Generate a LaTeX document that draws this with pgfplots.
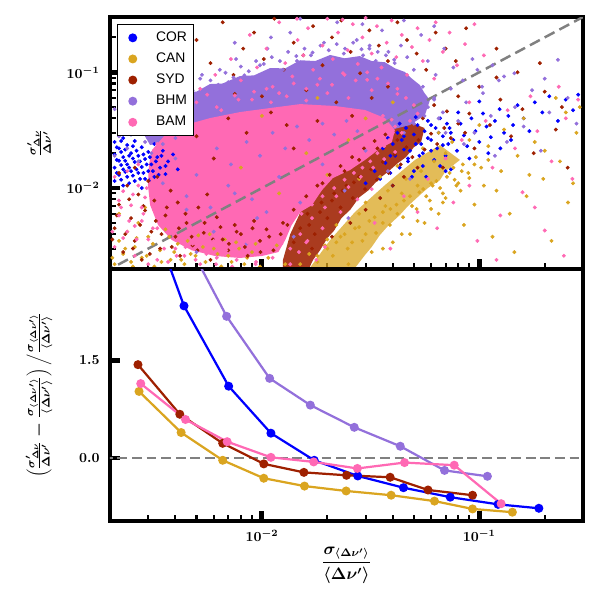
\documentclass[border=0pt]{standalone}
\usepackage{pgfplots}
\pgfplotsset{compat=1.18}
\usepackage{fontspec}
\newfontfamily\legfont{Liberation Sans}
\definecolor{corblue}{RGB}{0,0,255}
\definecolor{cangold}{RGB}{218,165,32}
\definecolor{sydred}{RGB}{158,32,0}
\definecolor{bhmpurple}{RGB}{147,112,219}
\definecolor{bampink}{RGB}{255,105,180}
\pgfplotsset{
  myscat/.style={only marks, mark=*, mark size=1.2pt, color=#1, mark options={draw=none, fill=#1}},
  mypoly/.style={fill=#1, draw=none, forget plot},
  myline/.style={color=#1, line width=1.6pt, mark=*, mark size=2.4pt, mark options={draw=none, fill=#1}},
}
\begin{document}
\begin{tikzpicture}
\useasboundingbox (-79.2pt,-56.88pt) rectangle (352.8pt,375.12pt);
% ---------------- top panel ----------------
\begin{axis}[name=top, at={(0,181.44pt)}, anchor=south west,
  scale only axis, width=340.56pt, height=181.44pt,
  xmode=log, ymode=log, xmin=0.002, xmax=0.3, ymin=0.002, ymax=0.3,
  axis line style={line width=3.5pt},
  tick align=inside, xtick pos=bottom, ytick pos=left,
  major tick length=7.5pt, minor tick length=4pt,
  major tick style={line width=3.5pt, black},
  minor tick style={line width=1.5pt, black},
  xtick={0.01,0.1}, xticklabels={},
  minor xtick={0.003,0.004,0.005,0.006,0.007,0.008,0.009,0.02,0.03,0.04,0.05,0.06,0.07,0.08,0.09,0.2},
  ytick={0.01,0.1},
  minor ytick={0.003,0.004,0.005,0.006,0.007,0.008,0.009,0.02,0.03,0.04,0.05,0.06,0.07,0.08,0.09,0.2},
  tick label style={font=\boldmath},
  yticklabel style={xshift=-4pt},
  ylabel={$\frac{\sigma'_{\Delta\nu}}{\Delta\nu'}$},
  ylabel style={font=\large\boldmath, at={(axis description cs:-0.15,0.5)}, anchor=center},
  legend style={at={(0,1)}, anchor=north west, xshift=5pt, yshift=-5pt,
    draw=black, line width=0.8pt, inner xsep=2pt, inner ysep=2pt,
    font=\legfont, row sep=0pt,
    nodes={text height=7.6pt, text depth=2.6pt, inner sep=2.5pt}},
  legend cell align=left,
  legend image code/.code={\path (0pt,0pt) (22.5pt,0pt); \draw[#1, mark size=2.8pt] plot coordinates {(8.6pt,0pt)};},
]
% dense cores (areas where the points overlap completely)
\addplot[mypoly=cangold, fill opacity=0.75] coordinates {(0.0166,0.00204) (0.0206,0.00356) (0.0268,0.00621) (0.0368,0.0106) (0.0506,0.0175) (0.0659,0.0235) (0.0815,0.0175) (0.0700,0.0140) (0.0659,0.0117) (0.0580,0.0100) (0.0533,0.0087) (0.0470,0.0070) (0.0431,0.00585) (0.0380,0.0047) (0.0349,0.00393) (0.0320,0.0031) (0.0298,0.00264) (0.0268,0.00204)} -- cycle;
\addplot[mypoly=sydred, fill opacity=0.88] coordinates {(0.0125,0.0024) (0.0135,0.0040) (0.0155,0.0070) (0.0206,0.0129) (0.0282,0.0213) (0.0388,0.0317) (0.0480,0.0370) (0.0560,0.0330) (0.0540,0.0250) (0.0500,0.0225) (0.0460,0.0185) (0.0420,0.0163) (0.0380,0.0138) (0.0345,0.0120) (0.0310,0.0096) (0.0280,0.0083) (0.0255,0.0065) (0.0232,0.0055) (0.0215,0.0043) (0.0200,0.0037) (0.0185,0.0029) (0.0172,0.0024) (0.0165,0.00204) (0.0125,0.00204)} -- cycle;
\addplot[mypoly=bhmpurple] coordinates {(0.00275,0.0330) (0.00306,0.0453) (0.0033,0.048) (0.00358,0.0575) (0.0040,0.058) (0.00443,0.0675) (0.0050,0.068) (0.00577,0.0791) (0.0066,0.080) (0.00792,0.0927) (0.0092,0.094) (0.0109,0.1087) (0.0128,0.108) (0.0150,0.127) (0.0176,0.125) (0.0206,0.141) (0.0240,0.132) (0.0282,0.138) (0.0320,0.125) (0.0368,0.122) (0.0410,0.108) (0.0455,0.1005) (0.0490,0.088) (0.0533,0.0776) (0.0560,0.066) (0.0593,0.0575) (0.0562,0.0427) (0.0480,0.0350) (0.0388,0.0317) (0.0314,0.0393) (0.0150,0.0427) (0.00792,0.0387) (0.00519,0.0317) (0.00378,0.026) (0.00306,0.0235)} -- cycle;
\addplot[mypoly=bampink] coordinates {(0.00312,0.0213) (0.00358,0.0287) (0.00443,0.0350) (0.00577,0.0402) (0.00792,0.0453) (0.0109,0.0491) (0.0150,0.0531) (0.0217,0.0511) (0.0298,0.0472) (0.0368,0.0402) (0.0409,0.0317) (0.0396,0.0249) (0.0342,0.0213) (0.0298,0.0175) (0.0254,0.0143) (0.0212,0.0122) (0.0189,0.0096) (0.0170,0.00713) (0.0150,0.00621) (0.0137,0.00479) (0.0128,0.00356) (0.0119,0.0028) (0.0100,0.00259) (0.00792,0.00249) (0.00608,0.00259) (0.00476,0.0029) (0.00385,0.00356) (0.00333,0.00479) (0.00306,0.00713) (0.00299,0.0106) (0.00302,0.0158)} -- cycle;
% COR
\addplot[myscat=corblue] coordinates {
(0.0021,0.0115) (0.0021,0.0150) (0.0021,0.0195) (0.0021,0.0250) (0.0022,0.0130) (0.0022,0.0172) (0.0022,0.0220) (0.0023,0.0105) (0.0023,0.0145) (0.0023,0.0185) (0.0023,0.0270) (0.0024,0.0125) (0.0024,0.0160) (0.0024,0.0235) (0.0025,0.0140) (0.0025,0.0200) (0.0026,0.0115) (0.0026,0.0168) (0.0026,0.0255) (0.0027,0.0135) (0.0027,0.0190) (0.0028,0.0152) (0.0028,0.0225) (0.0029,0.0120) (0.0029,0.0178) (0.0030,0.0140) (0.0030,0.0205) (0.0031,0.0160) (0.0032,0.0125) (0.0032,0.0240) (0.0033,0.0185) (0.0034,0.0150) (0.0035,0.0210) (0.0036,0.0132) (0.0037,0.0170) (0.0039,0.0195) (0.0041,0.0145) (0.0022,0.0310) (0.0025,0.0290) (0.0028,0.0100)
(0.00215,0.0135) (0.00215,0.0175) (0.00215,0.0225) (0.00225,0.0118) (0.00225,0.0158) (0.00225,0.0205) (0.00225,0.0255) (0.00235,0.0138) (0.00235,0.0172) (0.00235,0.0215) (0.00245,0.0110) (0.00245,0.0150) (0.00245,0.0190) (0.00255,0.0128) (0.00255,0.0180) (0.00255,0.0230) (0.00265,0.0145) (0.00265,0.0210) (0.00275,0.0120) (0.00275,0.0170) (0.00285,0.0135) (0.00285,0.0195) (0.00295,0.0160) (0.00305,0.0118) (0.00305,0.0185) (0.00315,0.0140) (0.00325,0.0170) (0.00335,0.0130) (0.00345,0.0190) (0.00360,0.0155)
(0.030,0.0110) (0.033,0.0140) (0.035,0.0120) (0.037,0.0165) (0.039,0.0135) (0.041,0.0190) (0.043,0.0150) (0.045,0.0215) (0.047,0.0170) (0.049,0.0125) (0.051,0.0240) (0.053,0.0190) (0.055,0.0155) (0.058,0.0270) (0.060,0.0210) (0.062,0.0175) (0.065,0.0300) (0.068,0.0235) (0.070,0.0190) (0.073,0.0330) (0.076,0.0260) (0.079,0.0210) (0.082,0.0360) (0.085,0.0285) (0.088,0.0230) (0.092,0.0400) (0.096,0.0310) (0.100,0.0250) (0.104,0.0440) (0.108,0.0340) (0.113,0.0275) (0.118,0.0380) (0.124,0.0480) (0.130,0.0300) (0.136,0.0420) (0.143,0.0350) (0.150,0.0520) (0.160,0.0400) (0.170,0.0310) (0.180,0.0550) (0.195,0.0450) (0.210,0.0620) (0.230,0.0380) (0.250,0.0580) (0.270,0.0470) (0.285,0.0640) (0.040,0.0105) (0.050,0.0140) (0.057,0.0125) (0.066,0.0155) (0.074,0.0145) (0.090,0.0180) (0.110,0.0200) (0.125,0.0220) (0.140,0.0260) (0.045,0.0280) (0.060,0.0350) (0.080,0.0450) (0.100,0.0560) (0.070,0.0140)
(0.036,0.022) (0.038,0.027) (0.040,0.024) (0.042,0.030) (0.044,0.026) (0.046,0.033) (0.048,0.021) (0.050,0.029) (0.052,0.035) (0.054,0.024) (0.056,0.031) (0.058,0.038) (0.060,0.026) (0.063,0.033) (0.066,0.040) (0.068,0.028) (0.071,0.036) (0.074,0.030) (0.039,0.019) (0.047,0.018) (0.055,0.020) (0.064,0.022) (0.072,0.024) (0.043,0.036) (0.051,0.041)
};
\addlegendentry{COR}
% CAN
\addplot[myscat=cangold] coordinates {
(0.0021,0.0022) (0.0022,0.0035) (0.0023,0.0027) (0.0024,0.0042) (0.0025,0.0023) (0.0026,0.0031) (0.0027,0.0050) (0.0028,0.0025) (0.0030,0.0038) (0.0032,0.0021) (0.0034,0.0029) (0.0036,0.0044) (0.0038,0.0024) (0.0041,0.0033) (0.0044,0.0022) (0.0047,0.0027) (0.0051,0.0039) (0.0055,0.0023) (0.0060,0.0030) (0.0065,0.0021) (0.0070,0.0026) (0.0076,0.0034) (0.0083,0.0022) (0.0090,0.0028) (0.0098,0.0021) (0.0107,0.0025) (0.0117,0.0032) (0.0128,0.0022) (0.0022,0.0060) (0.0029,0.0068)
(0.00205,0.0025) (0.00235,0.0030) (0.00255,0.0021) (0.00265,0.0037) (0.00295,0.0026) (0.00315,0.0033) (0.00345,0.0023) (0.00375,0.0038) (0.00395,0.0028) (0.00425,0.0024) (0.00455,0.0035) (0.00495,0.0026) (0.00535,0.0031) (0.00575,0.0040) (0.00625,0.0027) (0.00675,0.0036) (0.00725,0.0023) (0.00785,0.0030) (0.00855,0.0025) (0.00935,0.0033)
(0.0150,0.0022) (0.0165,0.0027) (0.0180,0.0023) (0.0195,0.0032) (0.0212,0.0026) (0.0230,0.0038) (0.0248,0.0030) (0.0268,0.0045) (0.0290,0.0035) (0.0312,0.0052) (0.0335,0.0041) (0.0360,0.0062) (0.0388,0.0048) (0.0416,0.0072) (0.0446,0.0056) (0.0480,0.0085) (0.0515,0.0066) (0.0552,0.0098) (0.0592,0.0078) (0.0635,0.0115) (0.0680,0.0090) (0.0730,0.0135) (0.0785,0.0105) (0.0840,0.0160) (0.0900,0.0122) (0.0965,0.0185) (0.0250,0.0022) (0.0320,0.0028) (0.0400,0.0034) (0.0480,0.0040) (0.0560,0.0050) (0.0650,0.0060) (0.0300,0.0075) (0.0380,0.0095) (0.0460,0.0120) (0.0540,0.0140) (0.0620,0.0170) (0.0700,0.0200) (0.0420,0.0155) (0.0350,0.0125) (0.0280,0.0060) (0.0220,0.0048) (0.0200,0.0036) (0.0600,0.0110) (0.0760,0.0150) (0.0520,0.0105) (0.0440,0.0090) (0.0370,0.0070) (0.0680,0.0075) (0.0820,0.0095)
(0.018,0.0026) (0.020,0.0030) (0.022,0.0034) (0.024,0.0040) (0.026,0.0034) (0.028,0.0046) (0.030,0.0040) (0.033,0.0056) (0.036,0.0050) (0.039,0.0066) (0.042,0.0060) (0.045,0.0078) (0.049,0.0070) (0.053,0.0092) (0.057,0.0085) (0.061,0.0105) (0.066,0.0100) (0.071,0.0125) (0.077,0.0118) (0.083,0.0140) (0.089,0.0135) (0.095,0.0160) (0.102,0.0150) (0.110,0.0175) (0.036,0.0030) (0.044,0.0040) (0.052,0.0052) (0.060,0.0066) (0.070,0.0082) (0.080,0.0110)
(0.085,0.0048) (0.095,0.0072) (0.105,0.0105) (0.115,0.0038) (0.126,0.0140) (0.138,0.0060) (0.150,0.0190) (0.165,0.0085) (0.180,0.0250) (0.197,0.0120) (0.215,0.0035) (0.235,0.0170) (0.256,0.0075) (0.280,0.0300) (0.110,0.0230) (0.130,0.0320) (0.160,0.0400) (0.200,0.0210) (0.250,0.0450) (0.145,0.0028) (0.090,0.0260) (0.120,0.0095) (0.170,0.0130) (0.270,0.0110) (0.100,0.0350) (0.075,0.0250) (0.065,0.0300) (0.055,0.0220) (0.290,0.0500) (0.225,0.0600)
(0.0080,0.0150) (0.0120,0.0090) (0.0160,0.0200) (0.0200,0.0130) (0.0250,0.0260) (0.0100,0.0420) (0.0180,0.0600) (0.0300,0.0400) (0.0400,0.0550) (0.0280,0.0120)
};
\addlegendentry{CAN}
% SYD
\addplot[myscat=sydred] coordinates {
(0.0021,0.0045) (0.0022,0.0072) (0.0023,0.0028) (0.0024,0.0105) (0.0025,0.0055) (0.0026,0.0035) (0.0027,0.0088) (0.0028,0.0024) (0.0029,0.0064) (0.0030,0.0115) (0.0031,0.0042) (0.0032,0.0078) (0.0034,0.0030) (0.0036,0.0058) (0.0038,0.0095) (0.0040,0.0038) (0.0042,0.0026) (0.0045,0.0050) (0.0048,0.0032) (0.0051,0.0068) (0.0054,0.0041) (0.0058,0.0024) (0.0062,0.0056) (0.0066,0.0036) (0.0070,0.0029) (0.0075,0.0048) (0.0080,0.0040) (0.0086,0.0026) (0.0092,0.0052) (0.0098,0.0035) (0.0105,0.0044) (0.0113,0.0029) (0.0122,0.0040) (0.0131,0.0048) (0.0140,0.0034) (0.0022,0.0135) (0.0026,0.0150) (0.0033,0.0125) (0.0041,0.0075) (0.0056,0.0088)
(0.00205,0.0036) (0.00215,0.0058) (0.00235,0.0040) (0.00245,0.0080) (0.00255,0.0030) (0.00275,0.0048) (0.00285,0.0070) (0.00305,0.0027) (0.00325,0.0052) (0.00345,0.0040) (0.00365,0.0068) (0.00385,0.0031) (0.00415,0.0045) (0.00445,0.0060) (0.00475,0.0038) (0.00505,0.0029) (0.00545,0.0050) (0.00595,0.0036) (0.00645,0.0046) (0.00705,0.0033) (0.00765,0.0042) (0.00835,0.0031) (0.00905,0.0045) (0.00985,0.0028) (0.0108,0.0038)
(0.0150,0.0045) (0.0162,0.0060) (0.0175,0.0040) (0.0188,0.0075) (0.0200,0.0055) (0.0215,0.0090) (0.0230,0.0068) (0.0245,0.0105) (0.0262,0.0082) (0.0280,0.0125) (0.0298,0.0098) (0.0318,0.0145) (0.0338,0.0118) (0.0360,0.0168) (0.0383,0.0135) (0.0408,0.0195) (0.0435,0.0160) (0.0462,0.0225) (0.0492,0.0185) (0.0525,0.0260) (0.0560,0.0215) (0.0600,0.0295) (0.0640,0.0240) (0.0690,0.0330) (0.0740,0.0270) (0.0800,0.0360) (0.0860,0.0300) (0.0170,0.0030) (0.0210,0.0038) (0.0255,0.0050) (0.0300,0.0065) (0.0350,0.0082) (0.0400,0.0105) (0.0450,0.0125) (0.0520,0.0150) (0.0280,0.0175) (0.0340,0.0220) (0.0420,0.0260) (0.0240,0.0140) (0.0190,0.0110)
(0.0125,0.0050) (0.0140,0.0065) (0.0160,0.0085) (0.0180,0.0105) (0.0205,0.0130) (0.0230,0.0155) (0.0260,0.0185) (0.0295,0.0220) (0.0330,0.0255) (0.0370,0.0290) (0.0165,0.0048) (0.0185,0.0062) (0.0210,0.0078) (0.0235,0.0095) (0.0265,0.0112)
(0.0042,0.085) (0.0050,0.19) (0.0058,0.12) (0.0066,0.27) (0.0074,0.095) (0.0082,0.16) (0.0092,0.22) (0.0102,0.13) (0.0114,0.29) (0.0126,0.105) (0.0140,0.18) (0.0155,0.14) (0.0172,0.25) (0.0190,0.115) (0.0210,0.20) (0.0232,0.28) (0.0256,0.15) (0.0283,0.098) (0.0312,0.23) (0.0345,0.17) (0.0380,0.125) (0.0420,0.27) (0.0465,0.19) (0.0515,0.145) (0.0570,0.105) (0.0630,0.22) (0.0700,0.16) (0.0780,0.125) (0.0870,0.24) (0.1200,0.16)
(0.055,0.040) (0.062,0.052) (0.071,0.046) (0.080,0.062) (0.090,0.044) (0.100,0.075) (0.112,0.035) (0.125,0.058) (0.140,0.028) (0.158,0.048) (0.178,0.020) (0.200,0.068) (0.225,0.032) (0.255,0.015) (0.150,0.100) (0.095,0.022) (0.068,0.015) (0.240,0.050) (0.120,0.090) (0.190,0.120)
(0.0060,0.018) (0.0085,0.030) (0.0110,0.045) (0.0140,0.022) (0.0180,0.038) (0.0220,0.055) (0.0070,0.040) (0.0100,0.062) (0.0130,0.035) (0.0260,0.042) (0.0320,0.060) (0.0050,0.028) (0.0160,0.070) (0.0380,0.075) (0.0075,0.065)
};
\addlegendentry{SYD}
% BHM
\addplot[myscat=bhmpurple] coordinates {
(0.0021,0.019) (0.0022,0.028) (0.0023,0.036) (0.0024,0.022) (0.0025,0.045) (0.0026,0.031) (0.0027,0.017) (0.0028,0.052) (0.0029,0.025) (0.0030,0.038) (0.0031,0.020) (0.0032,0.058) (0.0033,0.029) (0.0034,0.042) (0.0035,0.024) (0.0036,0.034) (0.0038,0.050) (0.0040,0.027) (0.0042,0.040) (0.0044,0.032) (0.0022,0.065) (0.0025,0.075) (0.0030,0.070) (0.0021,0.048) (0.0027,0.040)
(0.0045,0.075) (0.0052,0.088) (0.0058,0.072) (0.0064,0.105) (0.0070,0.082) (0.0076,0.13) (0.0083,0.094) (0.0090,0.078) (0.0098,0.115) (0.0106,0.16) (0.0115,0.088) (0.0125,0.105) (0.0135,0.22) (0.0145,0.125) (0.0156,0.095) (0.0168,0.14) (0.0180,0.11) (0.0193,0.18) (0.0207,0.125) (0.0222,0.27) (0.0238,0.145) (0.0255,0.12) (0.0273,0.19) (0.0292,0.14) (0.0312,0.16) (0.0334,0.125) (0.0357,0.23) (0.0382,0.15) (0.0408,0.12) (0.0436,0.17) (0.0466,0.135) (0.0500,0.105) (0.0540,0.21) (0.0580,0.125) (0.0630,0.095) (0.0690,0.16) (0.0760,0.11) (0.0840,0.085) (0.0930,0.13) (0.1030,0.075) (0.1150,0.115) (0.1300,0.092) (0.0150,0.29) (0.0290,0.26) (0.0450,0.28) (0.0110,0.20) (0.0075,0.18) (0.0620,0.25)
(0.0032,0.052) (0.0036,0.068) (0.0040,0.060) (0.0044,0.082) (0.0048,0.070) (0.0053,0.095) (0.0058,0.085) (0.0063,0.078) (0.0068,0.099) (0.0074,0.090) (0.0080,0.112) (0.0087,0.102) (0.0094,0.125) (0.0102,0.118) (0.0111,0.135) (0.0121,0.125) (0.0132,0.150) (0.0144,0.138) (0.0157,0.160) (0.0171,0.148) (0.0186,0.170) (0.0203,0.155) (0.0221,0.175) (0.0241,0.160) (0.0263,0.180) (0.0287,0.158) (0.0313,0.170) (0.0341,0.150) (0.0372,0.140) (0.0406,0.128)
(0.062,0.060) (0.068,0.045) (0.074,0.072) (0.080,0.038) (0.087,0.055) (0.095,0.030) (0.104,0.066) (0.113,0.042) (0.123,0.085) (0.134,0.025) (0.146,0.050) (0.160,0.034) (0.175,0.070) (0.192,0.021) (0.210,0.045) (0.230,0.128) (0.255,0.060) (0.280,0.036) (0.145,0.098) (0.118,0.019) (0.085,0.024) (0.070,0.030) (0.200,0.088) (0.098,0.105)
(0.0050,0.060) (0.0060,0.066) (0.0085,0.070) (0.0120,0.078) (0.0170,0.082) (0.0240,0.092) (0.0330,0.098) (0.0440,0.090) (0.0550,0.075) (0.0620,0.058) (0.0560,0.042) (0.0500,0.036) (0.0450,0.030) (0.0400,0.045) (0.0350,0.052) (0.0580,0.050) (0.0650,0.040) (0.0080,0.052) (0.0060,0.045) (0.0045,0.050)
(0.0040,0.018) (0.0050,0.013) (0.0062,0.022) (0.0072,0.016) (0.0085,0.025) (0.0098,0.019) (0.0112,0.030) (0.0128,0.022) (0.0145,0.034) (0.0165,0.026) (0.0190,0.036) (0.0215,0.029) (0.0245,0.038) (0.0275,0.031) (0.0035,0.011) (0.0045,0.0085) (0.0058,0.0068) (0.0070,0.0105) (0.0090,0.0080) (0.0105,0.0062)
(0.0045,0.0065) (0.0060,0.0042) (0.0075,0.0090) (0.0095,0.0055) (0.0120,0.0125) (0.0150,0.0075) (0.0190,0.0160) (0.0240,0.0095) (0.0300,0.0210) (0.0380,0.0140) (0.0050,0.0028) (0.0085,0.0033) (0.0140,0.0038) (0.0250,0.0055) (0.0480,0.0120)
};
\addlegendentry{BHM}
% BAM
\addplot[myscat=bampink] coordinates {
(0.0021,0.0031) (0.0022,0.0058) (0.0023,0.0094) (0.0021,0.0125) (0.0024,0.0042) (0.0025,0.0071) (0.0026,0.0026) (0.0027,0.0105) (0.0028,0.0052) (0.0029,0.0083) (0.0030,0.0036) (0.0031,0.0120) (0.0032,0.0064) (0.0033,0.0024) (0.0034,0.0098) (0.0022,0.0078) (0.0024,0.0140) (0.0026,0.0047) (0.0028,0.0068) (0.0030,0.0022) (0.0031,0.0090) (0.0033,0.0045) (0.0035,0.0075) (0.0023,0.0037) (0.0027,0.0160)
(0.00205,0.0042) (0.00225,0.0068) (0.00245,0.0052) (0.00255,0.0088) (0.00265,0.0036) (0.00285,0.0060) (0.00295,0.0100) (0.00315,0.0045) (0.00335,0.0082) (0.00355,0.0030) (0.00375,0.0056) (0.00405,0.0026) (0.00445,0.0031) (0.00495,0.0024) (0.00555,0.0027) (0.00615,0.0022) (0.00685,0.0029) (0.00765,0.0024) (0.00845,0.0028) (0.00935,0.0022)
(0.0037,0.0023) (0.0040,0.0030) (0.0044,0.0026) (0.0048,0.0033) (0.0052,0.0022) (0.0057,0.0029) (0.0062,0.0025) (0.0067,0.0032) (0.0073,0.0021) (0.0079,0.0027) (0.0086,0.0034) (0.0094,0.0023) (0.0102,0.0030) (0.0112,0.0025) (0.0123,0.0033) (0.0135,0.0022) (0.0148,0.0028) (0.0162,0.0035) (0.0178,0.0024) (0.0195,0.0031) (0.0042,0.0036) (0.0060,0.0035)
(0.0150,0.0040) (0.0170,0.0055) (0.0195,0.0068) (0.0220,0.0085) (0.0250,0.0102) (0.0285,0.0125) (0.0325,0.0150) (0.0365,0.0178) (0.0410,0.0205) (0.0135,0.0030) (0.0160,0.0034) (0.0190,0.0045) (0.0230,0.0062) (0.0275,0.0080) (0.0320,0.0098)
(0.0036,0.0180) (0.0041,0.0210) (0.0047,0.0240) (0.0055,0.0270) (0.0038,0.0048) (0.0045,0.0042) (0.0053,0.0039) (0.0100,0.0040) (0.0118,0.0045) (0.0135,0.0052) (0.0152,0.0060) (0.0170,0.0072) (0.0190,0.0085) (0.0215,0.0100) (0.0240,0.0118) (0.0265,0.0135) (0.0290,0.0150) (0.0315,0.0170) (0.0340,0.0200) (0.0365,0.0230) (0.0385,0.0260) (0.0400,0.0300) (0.0410,0.0340) (0.0395,0.0390) (0.0360,0.0420)
(0.0040,0.045) (0.0050,0.055) (0.0062,0.050) (0.0075,0.063) (0.0090,0.058) (0.0105,0.072) (0.0120,0.066) (0.0140,0.080) (0.0160,0.072) (0.0185,0.088) (0.0210,0.078) (0.0240,0.095) (0.0270,0.085) (0.0305,0.100) (0.0340,0.088) (0.0380,0.080) (0.0420,0.072) (0.0460,0.060) (0.0500,0.052) (0.0520,0.044) (0.0480,0.038) (0.0440,0.030) (0.0045,0.034) (0.0038,0.028) (0.0033,0.024)
(0.0052,0.072) (0.0061,0.095) (0.0072,0.13) (0.0080,0.085) (0.0088,0.21) (0.0095,0.11) (0.0105,0.16) (0.0112,0.075) (0.0120,0.27) (0.0128,0.12) (0.0138,0.092) (0.0146,0.19) (0.0155,0.14) (0.0163,0.24) (0.0172,0.105) (0.0180,0.078) (0.0190,0.17) (0.0200,0.29) (0.0212,0.13) (0.0224,0.22) (0.0236,0.098) (0.0248,0.155) (0.0262,0.26) (0.0276,0.118) (0.0290,0.2) (0.0305,0.086) (0.0320,0.145) (0.0338,0.25) (0.0355,0.11) (0.0375,0.18) (0.0395,0.28) (0.0415,0.135) (0.0440,0.21) (0.0465,0.095) (0.0490,0.165) (0.0520,0.24) (0.0550,0.125) (0.0590,0.19) (0.0630,0.27) (0.0680,0.15) (0.0730,0.22) (0.0790,0.115) (0.0860,0.175) (0.0950,0.26) (0.1050,0.14) (0.0145,0.29) (0.0235,0.285) (0.0300,0.295)
(0.045,0.0085) (0.052,0.0062) (0.058,0.012) (0.064,0.0045) (0.070,0.018) (0.076,0.0075) (0.083,0.026) (0.090,0.0105) (0.098,0.0035) (0.107,0.038) (0.115,0.015) (0.125,0.0058) (0.135,0.047) (0.146,0.022) (0.158,0.0092) (0.172,0.062) (0.185,0.031) (0.200,0.0043) (0.215,0.017) (0.232,0.075) (0.250,0.040) (0.268,0.012) (0.285,0.058) (0.033,0.0050) (0.039,0.0030) (0.120,0.0024) (0.180,0.0068) (0.062,0.088) (0.245,0.0026) (0.090,0.055)
(0.0030,0.045) (0.0035,0.060) (0.0040,0.038) (0.0046,0.052) (0.0056,0.064) (0.0065,0.047) (0.0078,0.058) (0.0092,0.068) (0.0110,0.055) (0.0130,0.062) (0.0160,0.057) (0.0200,0.066) (0.0250,0.060) (0.0320,0.070) (0.0420,0.065)
};
\addlegendentry{BAM}
\addplot[gray, line width=1.8pt, dash pattern=on 8pt off 4pt, forget plot] coordinates {(0.001,0.001) (1,1)};
\end{axis}
% ---------------- bottom panel ----------------
\begin{axis}[name=bot, at={(0,0)}, anchor=south west,
  scale only axis, width=340.56pt, height=181.44pt,
  xmode=log, xmin=0.002, xmax=0.3, ymin=-0.965, ymax=2.895,
  axis line style={line width=3.5pt},
  tick align=inside, xtick pos=bottom, ytick pos=left,
  major tick length=7.5pt, minor tick length=4pt,
  major tick style={line width=3.5pt, black},
  minor tick style={line width=1.5pt, black},
  xtick={0.01,0.1},
  minor xtick={0.003,0.004,0.005,0.006,0.007,0.008,0.009,0.02,0.03,0.04,0.05,0.06,0.07,0.08,0.09,0.2},
  ytick={0,1.5}, yticklabels={$0.0$,$1.5$},
  tick label style={font=\boldmath},
  yticklabel style={xshift=-4pt},
  xticklabel style={yshift=-3pt},
  xlabel={$\displaystyle\frac{\sigma_{\langle\Delta\nu'\rangle}}{\langle\Delta\nu'\rangle}$},
  xlabel style={font=\large\boldmath, at={(axis description cs:0.5,-0.175)}, anchor=center},
  ylabel={$\left(\frac{\sigma'_{\Delta\nu}}{\Delta\nu'}-\frac{\sigma_{\langle\Delta\nu'\rangle}}{\langle\Delta\nu'\rangle}\right)\Big/\frac{\sigma_{\langle\Delta\nu'\rangle}}{\langle\Delta\nu'\rangle}$},
  ylabel style={font=\large\boldmath, at={(axis description cs:-0.15,0.5)}, anchor=center},
]
\addplot[gray, line width=1.6pt, dash pattern=on 7pt off 3.5pt, forget plot] coordinates {(0.001,0) (1,0)};
\addplot[myline=corblue] coordinates {(0.0028,4.1) (0.00438,2.33) (0.00703,1.10) (0.0110,0.38) (0.0174,-0.035) (0.0276,-0.275) (0.0448,-0.455) (0.0735,-0.60) (0.122,-0.71) (0.188,-0.77)};
\addplot[myline=cangold] coordinates {(0.00272,1.02) (0.00425,0.39) (0.0066,-0.035) (0.0102,-0.31) (0.0157,-0.43) (0.0244,-0.505) (0.0393,-0.57) (0.0622,-0.66) (0.0931,-0.78) (0.142,-0.83)};
\addplot[myline=sydred] coordinates {(0.00269,1.43) (0.00419,0.67) (0.0066,0.225) (0.0102,-0.09) (0.0156,-0.22) (0.0245,-0.265) (0.0389,-0.295) (0.0581,-0.49) (0.0931,-0.57)};
\addplot[myline=bhmpurple] coordinates {(0.0044,3.4) (0.00688,2.17) (0.01085,1.22) (0.0167,0.81) (0.0266,0.47) (0.0433,0.18) (0.0692,-0.19) (0.109,-0.28)};
\addplot[myline=bampink] coordinates {(0.00277,1.14) (0.00445,0.59) (0.00692,0.25) (0.0110,0.01) (0.0173,-0.06) (0.0275,-0.16) (0.0453,-0.07) (0.0767,-0.11) (0.126,-0.70)};
\end{axis}
\end{tikzpicture}
\end{document}
